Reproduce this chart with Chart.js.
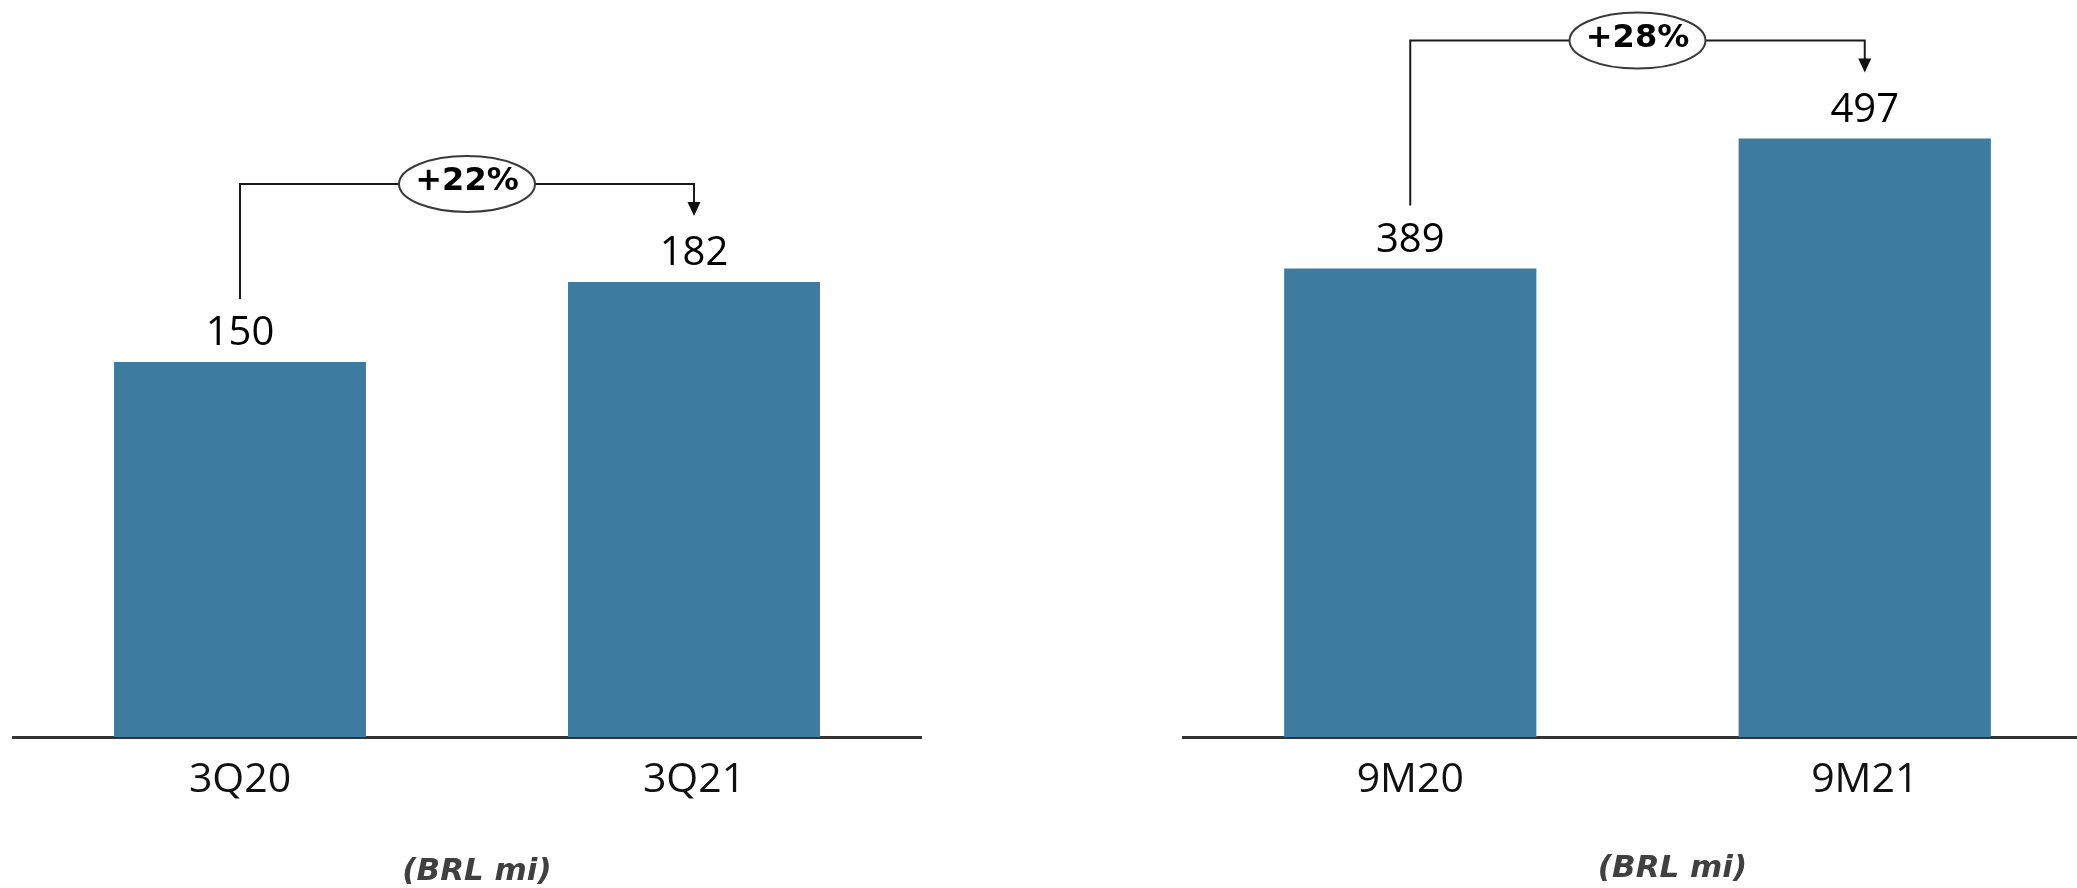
<!DOCTYPE html>
<html><head><meta charset="utf-8">
<script src="https://cdn.jsdelivr.net/npm/chart.js@4"></script>
<style>
html,body{margin:0;padding:0;width:2077px;height:888px;overflow:hidden;background:#fff;}
canvas{position:absolute;top:0;}
</style></head><body>
<canvas id="c1" width="1000" height="888" style="left:0px"></canvas>
<canvas id="c2" width="1000" height="888" style="left:1100px"></canvas>
<script>
// ---- data ----
const quarterCategories = ['3Q20', '3Q21'];
const quarterValues = [150, 182];
const quarterGrowth = '+22%';
const ytdCategories = ['9M20', '9M21'];
const ytdValues = [389, 497];
const ytdGrowth = '+28%';
const unitLabel = '(BRL mi)';

const BAR_COLOR = '#3d7ca0';

const annot = {
  id: 'annot',
  afterDatasetsDraw(chart, args, opts) {
    const ctx = chart.ctx;
    const meta = chart.getDatasetMeta(0);
    const vals = chart.data.datasets[0].data;
    ctx.save();
    // value labels
    ctx.font = '40px "Open Sans"';
    ctx.fillStyle = '#000';
    ctx.textAlign = 'center';
    ctx.textBaseline = 'alphabetic';
    meta.data.forEach((bar, i) => ctx.fillText(String(vals[i]), bar.x, bar.y - 17));
    // bracket
    const b0 = meta.data[0], b1 = meta.data[1];
    const x1 = b0.x, x2 = b1.x;
    const top = Math.min(b0.y, b1.y);
    const hy = top - 98, y1 = b0.y - 63, tip = b1.y - 66;
    ctx.strokeStyle = '#1a1a1a';
    ctx.lineWidth = 2;
    ctx.beginPath();
    ctx.moveTo(x1, y1); ctx.lineTo(x1, hy); ctx.lineTo(x2, hy); ctx.lineTo(x2, tip - 12);
    ctx.stroke();
    ctx.fillStyle = '#111';
    ctx.beginPath();
    ctx.moveTo(x2 - 6.5, tip - 14); ctx.lineTo(x2 + 6.5, tip - 14); ctx.lineTo(x2, tip);
    ctx.closePath(); ctx.fill();
    // ellipse with growth
    const mx = (x1 + x2) / 2;
    ctx.beginPath();
    ctx.ellipse(mx, hy, 68, 28, 0, 0, Math.PI * 2);
    ctx.fillStyle = '#fff'; ctx.fill();
    ctx.strokeStyle = '#3a3a3a'; ctx.lineWidth = 2; ctx.stroke();
    ctx.fillStyle = '#000';
    ctx.font = 'bold 32px "DejaVu Sans"';
    ctx.textBaseline = 'middle';
    ctx.fillText(opts.growth, mx, hy - 2);
    // unit label
    const ca = chart.chartArea;
    ctx.font = 'italic bold 31px "DejaVu Sans"';
    ctx.fillStyle = '#404040';
    ctx.fillText(opts.unit, (ca.left + ca.right) / 2 + opts.unitDx, opts.unitY);
    ctx.restore();
  }
};

function makeChart(id, cats, vals, yMax, pad, growth, unitDx, unitY) {
  return new Chart(document.getElementById(id), {
    type: 'bar',
    data: { labels: cats, datasets: [{ data: vals, backgroundColor: BAR_COLOR, borderWidth: 0,
      categoryPercentage: 1, barPercentage: 0.555 }] },
    options: {
      responsive: false, animation: false, devicePixelRatio: 1,
      layout: { padding: pad },
      plugins: { legend: { display: false }, tooltip: { enabled: false },
        annot: { growth: growth, unit: unitLabel, unitDx: unitDx, unitY: unitY } },
      scales: {
        x: {
          grid: { display: false, drawTicks: false },
          border: { display: true, color: '#333', width: 3 },
          ticks: { color: '#111', font: { family: 'Open Sans', size: 41 }, padding: 19, maxRotation: 0 },
          afterFit(scale) { scale.height = 151; }
        },
        y: { display: false, min: 0, max: yMax }
      }
    },
    plugins: [annot]
  });
}

function draw() {
  makeChart('c1', quarterCategories, quarterValues, 250, { left: 13, right: 79, top: 112, bottom: 0 }, quarterGrowth, 10, 872);
  makeChart('c2', ytdCategories, ytdValues, 600, { left: 83, right: 8, top: 14.5, bottom: 0 }, ytdGrowth, 35, 869);
}
Promise.all([
  document.fonts.load('40px "Open Sans"'),
  document.fonts.load('bold 32px "DejaVu Sans"'),
  document.fonts.load('italic bold 31px "DejaVu Sans"')
]).then(draw, draw);
</script>
</body></html>
